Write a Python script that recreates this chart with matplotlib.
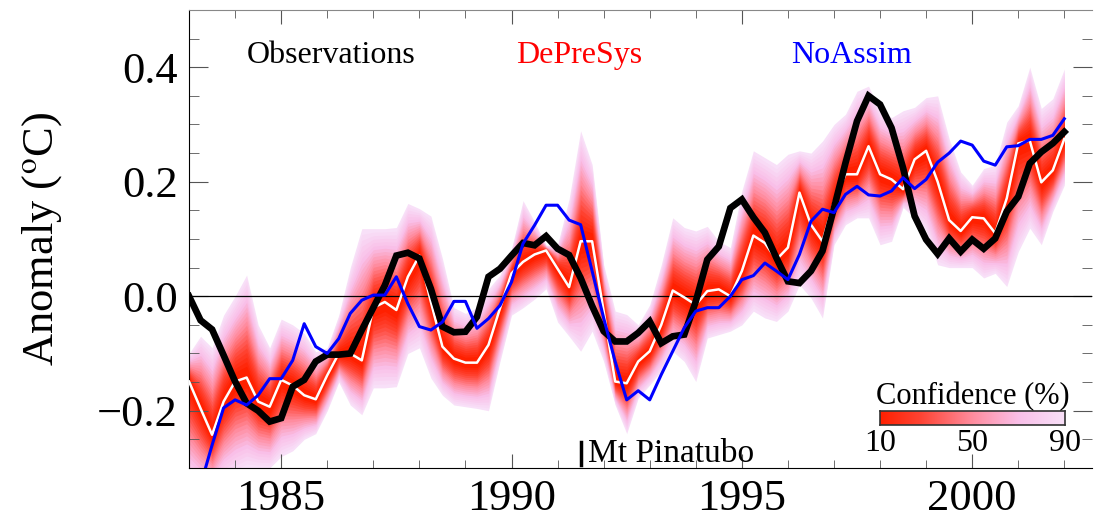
import numpy as np
import matplotlib
matplotlib.use("Agg")
import matplotlib.pyplot as plt
from matplotlib.colors import LinearSegmentedColormap
from matplotlib.ticker import MultipleLocator

plt.rcParams['font.family'] = ['Liberation Serif', 'DejaVu Serif']
plt.rcParams['mathtext.fontset'] = 'stix'

# quarterly values, 1983.0 .. 2002.0
years = 1983 + 0.25 * np.arange(77)

observations = [0.00, -0.042, -0.058, -0.103, -0.149, -0.187, -0.20, -0.219, -0.213, -0.158,
                -0.146, -0.114, -0.102, -0.102, -0.10, -0.059, -0.02, 0.019, 0.071, 0.076,
                0.066, 0.013, -0.053, -0.063, -0.062, -0.036, 0.034, 0.048, 0.071, 0.093,
                0.089, 0.105, 0.083, 0.072, 0.032, -0.017, -0.061, -0.079, -0.079, -0.064,
                -0.044, -0.082, -0.07, -0.067, -0.009, 0.064, 0.087, 0.154, 0.169, 0.138,
                0.111, 0.067, 0.026, 0.023, 0.044, 0.079, 0.154, 0.233, 0.306, 0.35,
                0.335, 0.294, 0.224, 0.14, 0.099, 0.074, 0.101, 0.078, 0.099, 0.083,
                0.101, 0.148, 0.174, 0.232, 0.252, 0.267, 0.287]

noassim = [-0.40, -0.33, -0.26, -0.195, -0.181, -0.19, -0.173, -0.144, -0.144, -0.112,
           -0.048, -0.088, -0.10, -0.074, -0.030, -0.007, 0.002, 0.002, 0.034, -0.013,
           -0.053, -0.059, -0.045, -0.009, -0.009, -0.056, -0.039, -0.016, 0.025, 0.092,
           0.124, 0.159, 0.159, 0.133, 0.125, 0.044, -0.038, -0.114, -0.181, -0.165,
           -0.181, -0.137, -0.096, -0.055, -0.026, -0.02, -0.02, 0.0, 0.029, 0.036,
           0.058, 0.044, 0.029, 0.073, 0.131, 0.152, 0.146, 0.178, 0.192, 0.177,
           0.175, 0.184, 0.207, 0.188, 0.204, 0.234, 0.25, 0.271, 0.264, 0.236,
           0.229, 0.261, 0.263, 0.274, 0.274, 0.281, 0.31]

depresys = [-0.149, -0.196, -0.242, -0.184, -0.149, -0.142, -0.184, -0.193, -0.146, -0.156,
            -0.173, -0.180, -0.138, -0.10, -0.10, -0.112, -0.02, -0.01, -0.024, 0.034,
            0.071, -0.01, -0.088, -0.109, -0.116, -0.116, -0.085, -0.021, 0.04, 0.06,
            0.073, 0.08, 0.048, 0.016, 0.096, 0.096, -0.026, -0.149, -0.152, -0.114,
            -0.096, -0.05, 0.01, -0.002, -0.015, 0.009, 0.012, 0.0, 0.044, 0.106,
            0.093, 0.064, 0.085, 0.181, 0.125, 0.096, 0.166, 0.213, 0.213, 0.262,
            0.213, 0.204, 0.187, 0.239, 0.254, 0.2, 0.133, 0.114, 0.138, 0.136,
            0.11, 0.171, 0.267, 0.272, 0.199, 0.22, 0.275]

# 90% confidence limits of the DePreSys ensemble
upper90 = [-0.10, -0.07, -0.09, -0.033, 0.0, 0.037, -0.05, -0.09, -0.04, -0.05,
           -0.065, -0.097, -0.09, -0.033, 0.05, 0.118, 0.118, 0.118, 0.12, 0.162,
           0.153, 0.14, 0.066, -0.02, -0.03, -0.02, 0.013, 0.037, 0.083, 0.167,
           0.13, 0.089, 0.09, 0.17, 0.289, 0.23, 0.055, -0.026, -0.032, -0.05,
           -0.015, 0.055, 0.137, 0.12, 0.114, 0.122, 0.096, 0.085, 0.184, 0.254,
           0.242, 0.23, 0.248, 0.254, 0.25, 0.271, 0.30, 0.318, 0.358, 0.367,
           0.324, 0.312, 0.324, 0.33, 0.347, 0.35, 0.275, 0.217, 0.194, 0.223,
           0.229, 0.304, 0.333, 0.40, 0.328, 0.345, 0.397]

lower90 = [-0.33, -0.34, -0.34, -0.32, -0.31, -0.30, -0.30, -0.30, -0.28, -0.27,
           -0.25, -0.24, -0.20, -0.15, -0.19, -0.207, -0.16, -0.16, -0.158, -0.10,
           -0.09, -0.143, -0.173, -0.19, -0.193, -0.196, -0.2, -0.114, -0.033, -0.02,
           -0.005, 0.013, -0.045, -0.07, -0.096, -0.061, -0.114, -0.19, -0.24, -0.178,
           -0.155, -0.131, -0.096, -0.114, -0.149, -0.073, -0.067, -0.061, -0.05, -0.026,
           -0.038, -0.044, -0.026, 0.02, -0.003, -0.038, 0.09, 0.125, 0.137, 0.137,
           0.09, 0.096, 0.155, 0.137, 0.114, 0.055, 0.05, 0.05, 0.05, 0.032,
           0.04, 0.017, 0.078, 0.119, 0.09, 0.148, 0.194]

pinatubo = 1991.5
conf_levels = np.arange(90, 9, -4)

mean = np.array(depresys)
up = np.array(upper90)
lo = np.array(lower90)

cmap = LinearSegmentedColormap.from_list(
    'conf', [(0.0, '#ff2000'), (0.22, '#ff4434'), (0.5, '#ff8c9e'),
             (0.75, '#f9bfe8'), (1.0, '#f8e0f8')])

fig = plt.figure(figsize=(11.01, 5.26), dpi=100)
ax = fig.add_axes([0.1717, 0.1103, 0.8201, 0.8707])

# fan of confidence bands, widest first
for p in conf_levels:
    f = p / 90.0
    c = cmap((p - 10) / 80.0)
    ax.fill_between(years, mean - f * (mean - lo), mean + f * (up - mean),
                    color=c, lw=0, zorder=1)

ax.axhline(0, color='black', lw=0.9, zorder=2)
ax.plot(years, depresys, color='white', lw=1.8, zorder=3)
ax.plot(years, observations, color='black', lw=4.8, zorder=4, solid_joinstyle='miter')
ax.plot(years, noassim, color='#0000ff', lw=2.2, zorder=5)

ax.set_xlim(1983, 2002.6)
ax.set_ylim(-0.3, 0.5)
ax.xaxis.set_major_locator(MultipleLocator(5))
ax.xaxis.set_minor_locator(MultipleLocator(1))
ax.yaxis.set_major_locator(MultipleLocator(0.2))
ax.yaxis.set_minor_locator(MultipleLocator(0.05))
ax.yaxis.set_major_formatter(plt.FuncFormatter(lambda v, pos: f"{v:.1f}".replace('-', '\u2212')))
ax.tick_params(which='both', direction='in', top=True, right=True, colors='#555555',
               labelcolor='black', labelsize=32)
ax.tick_params(axis='x', which='major', length=10, pad=8)
ax.tick_params(axis='x', which='minor', length=6)
ax.tick_params(axis='y', which='major', length=14, pad=8)
ax.tick_params(axis='y', which='minor', length=7)
ax.spines['right'].set_visible(False)
ax.spines['top'].set_color('#888888')
ax.spines['left'].set_color('black')
ax.spines['bottom'].set_color('black')
ax.set_ylabel('Anomaly ($^{\\rm o}$C)', fontsize=32, labelpad=24)

ax.text(0.157, 0.90, 'Observations', transform=ax.transAxes, fontsize=23,
        ha='center', va='center', color='black')
ax.text(0.432, 0.90, 'DePreSys', transform=ax.transAxes, fontsize=23,
        ha='center', va='center', color='#ff0000')
ax.text(0.734, 0.90, 'NoAssim', transform=ax.transAxes, fontsize=23,
        ha='center', va='center', color='#0000ff')

ax.plot([pinatubo, pinatubo], [-0.295, -0.255], color='black', lw=2.5, zorder=6)
ax.text(pinatubo + 0.15, -0.276, 'Mt Pinatubo', fontsize=24, ha='left', va='center')

# confidence colour bar
cax = fig.add_axes([880 / 1101, (526 - 425) / 526, 185 / 1101, 14 / 526])
grad = np.linspace(10, 90, 256).reshape(1, -1)
cax.imshow(grad, aspect='auto', cmap=cmap, extent=[10, 90, 0, 1])
cax.set_xticks([10, 50, 90])
cax.set_yticks([])
cax.tick_params(axis='x', length=0, labelsize=23, pad=3)
for s in cax.spines.values():
    s.set_color('#333333')
    s.set_linewidth(1.2)
cax.set_title('Confidence (%)', fontsize=22, pad=0)

fig.savefig('out.png', dpi=100)
